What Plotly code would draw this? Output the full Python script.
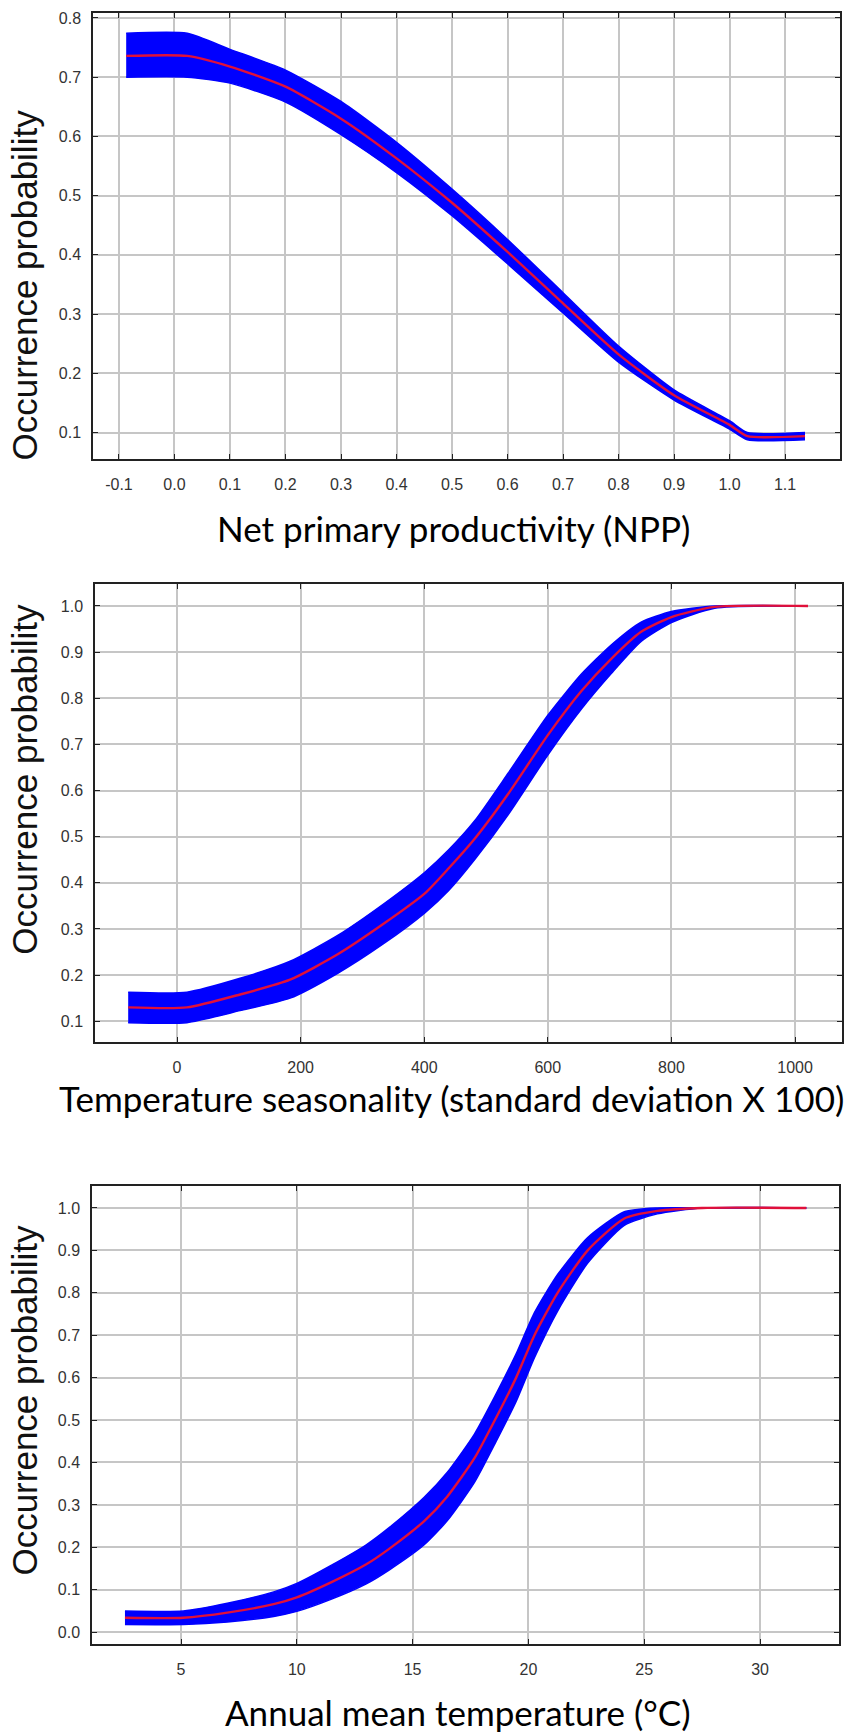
import plotly.graph_objects as go

W, H = 851, 1734

# ---------------- data ----------------
# Panel 1: Net primary productivity
npp_x   = [-0.087, 0.023, 0.1, 0.2, 0.3, 0.4, 0.5, 0.6, 0.7, 0.8, 0.9, 1.0, 1.032, 1.136]
npp_mid = [0.736, 0.736, 0.718, 0.684, 0.630, 0.563, 0.488, 0.405, 0.318, 0.232, 0.163, 0.113, 0.094, 0.094]
npp_lo  = [0.700, 0.700, 0.690, 0.658, 0.603, 0.539, 0.466, 0.385, 0.302, 0.219, 0.155, 0.106, 0.088, 0.088]
npp_hi  = [0.774, 0.774, 0.747, 0.712, 0.659, 0.590, 0.511, 0.426, 0.336, 0.246, 0.172, 0.120, 0.100, 0.100]
npp_xticks = [-0.1, 0.0, 0.1, 0.2, 0.3, 0.4, 0.5, 0.6, 0.7, 0.8, 0.9, 1.0, 1.1]
npp_yticks = [0.1, 0.2, 0.3, 0.4, 0.5, 0.6, 0.7, 0.8]

# Panel 2: Temperature seasonality
ts_x   = [-79, 16, 102, 183, 260, 333, 401, 440, 482, 536, 600, 654, 703, 751, 800, 870, 1021]
ts_mid = [0.130, 0.130, 0.158, 0.190, 0.245, 0.310, 0.377, 0.432, 0.496, 0.593, 0.720, 0.815, 0.886, 0.944, 0.976, 0.998, 1.0]
ts_lo  = [0.097, 0.097, 0.123, 0.150, 0.204, 0.267, 0.335, 0.384, 0.451, 0.548, 0.677, 0.776, 0.854, 0.923, 0.964, 0.995, 1.0]
ts_hi  = [0.163, 0.163, 0.193, 0.230, 0.286, 0.353, 0.423, 0.472, 0.535, 0.638, 0.763, 0.852, 0.916, 0.965, 0.988, 1.0, 1.0]
ts_xticks = [0, 200, 400, 600, 800, 1000]
ts_yticks = [0.1, 0.2, 0.3, 0.4, 0.5, 0.6, 0.7, 0.8, 0.9, 1.0]

# Panel 3: Annual mean temperature
amt_x   = [2.58, 5.1, 7.0, 9.0, 10.0, 11.5, 13.0, 14.0, 15.5, 16.5, 17.67, 18.6, 19.47, 20.26, 21.26, 22.56, 24.14, 25.57, 27.5, 32.0]
amt_mid = [0.034, 0.034, 0.046, 0.066, 0.082, 0.118, 0.160, 0.197, 0.262, 0.320, 0.410, 0.505, 0.600, 0.700, 0.800, 0.900, 0.975, 0.993, 1.0, 1.0]
amt_lo  = [0.018, 0.018, 0.024, 0.037, 0.049, 0.078, 0.114, 0.147, 0.206, 0.263, 0.353, 0.449, 0.544, 0.647, 0.757, 0.870, 0.959, 0.986, 1.0, 1.0]
amt_hi  = [0.050, 0.050, 0.068, 0.095, 0.115, 0.158, 0.206, 0.247, 0.318, 0.377, 0.467, 0.561, 0.656, 0.753, 0.843, 0.930, 0.991, 1.0, 1.0, 1.0]
amt_xticks = [5, 10, 15, 20, 25, 30]
amt_yticks = [0.0, 0.1, 0.2, 0.3, 0.4, 0.5, 0.6, 0.7, 0.8, 0.9, 1.0]

titles_x = ["Net primary productivity (NPP)",
            "Temperature seasonality (standard deviation X 100)",
            "Annual mean temperature (\u00b0C)"]
title_y = "Occurrence probability"

# ---------------- layout geometry (pixels) ----------------
def px_x(v):
    return v / W

def px_y(v):
    return 1 - v / H

panels = [
    dict(x=npp_x, mid=npp_mid, lo=npp_lo, hi=npp_hi, xt=npp_xticks, yt=npp_yticks,
         xfmt=".1f", yfmt=".1f", box=(93, 840, 10, 457), xr=[-0.1468, 1.199], yr=[0.055, 0.8084],
         font="Liberation Sans", ytitle_c=283, xtitle=(453, 526)),
    dict(x=ts_x, mid=ts_mid, lo=ts_lo, hi=ts_hi, xt=ts_xticks, yt=ts_yticks,
         xfmt="d", yfmt=".1f", box=(95, 842, 582, 1041), xr=[-132.7, 1076], yr=[0.0546, 1.0476],
         font="Liberation Sans Narrow, Liberation Sans", ytitle_c=778, xtitle=(452, 1097)),
    dict(x=amt_x, mid=amt_mid, lo=amt_lo, hi=amt_hi, xt=amt_xticks, yt=amt_yticks,
         xfmt="d", yfmt=".1f", box=(92, 839, 1185, 1644), xr=[1.157, 33.41], yr=[-0.0282, 1.0518],
         font="Liberation Sans", ytitle_c=1400, xtitle=(458, 1712)),
]

fig = go.Figure()
annotations = []
layout_axes = {}

for i, p in enumerate(panels, start=1):
    xa = "x" if i == 1 else f"x{i}"
    ya = "y" if i == 1 else f"y{i}"
    # lower edge of band
    fig.add_trace(go.Scatter(x=p["x"], y=p["lo"], mode="lines", xaxis=xa, yaxis=ya,
                             line=dict(color="#0000ff", width=1.5, shape="spline", smoothing=0.6),
                             showlegend=False, hoverinfo="skip"))
    # upper edge with fill
    fig.add_trace(go.Scatter(x=p["x"], y=p["hi"], mode="lines", xaxis=xa, yaxis=ya,
                             fill="tonexty", fillcolor="#0000ff",
                             line=dict(color="#0000ff", width=1.5, shape="spline", smoothing=0.6),
                             showlegend=False, hoverinfo="skip"))
    # mean response
    fig.add_trace(go.Scatter(x=p["x"], y=p["mid"], mode="lines", xaxis=xa, yaxis=ya,
                             line=dict(color="#e0103a", width=2.4, shape="spline", smoothing=0.6),
                             showlegend=False))

    l, r, t, b = p["box"]
    axis_common = dict(showline=True, linecolor="#222222", linewidth=1.5, mirror="ticks",
                       ticks="inside", ticklen=5, tickwidth=1.3, tickcolor="#222222",
                       showgrid=True, gridcolor="#c6c6c6", gridwidth=1.6, zeroline=False,
                       tickfont=dict(family=p["font"], size=16, color="#333333"))
    xname = "xaxis" if i == 1 else f"xaxis{i}"
    yname = "yaxis" if i == 1 else f"yaxis{i}"
    layout_axes[xname] = dict(axis_common, domain=[px_x(l), px_x(r)], range=p["xr"],
                              tickmode="array", tickvals=p["xt"],
                              ticktext=[format(v, p["xfmt"]) if p["xfmt"] != "d" else str(int(v)) for v in p["xt"]],
                              anchor=ya, ticklabelstandoff=10)
    layout_axes[yname] = dict(axis_common, domain=[px_y(b), px_y(t)], range=p["yr"],
                              tickmode="array", tickvals=p["yt"],
                              ticktext=[format(v, p["yfmt"]) for v in p["yt"]],
                              anchor=xa, ticklabelstandoff=7)

    annotations.append(dict(text=title_y, textangle=-90, xref="paper", yref="paper",
                            x=px_x(25), y=px_y(p["ytitle_c"]), xanchor="center", yanchor="middle",
                            showarrow=False,
                            font=dict(family="Liberation Sans", size=35, color="#111111")))
    annotations.append(dict(text=titles_x[i - 1], xref="paper", yref="paper",
                            x=px_x(p["xtitle"][0]), y=px_y(p["xtitle"][1]),
                            xanchor="center", yanchor="middle", showarrow=False,
                            font=dict(family="Lato", size=35, color="#000000")))

fig.update_layout(width=W, height=H, margin=dict(l=0, r=0, t=0, b=0),
                  paper_bgcolor="white", plot_bgcolor="white",
                  annotations=annotations, **layout_axes)

fig.write_html("out.html", config={"displayModeBar": False},
               post_script="document.body.style.margin='0';document.body.style.overflow='hidden';")
